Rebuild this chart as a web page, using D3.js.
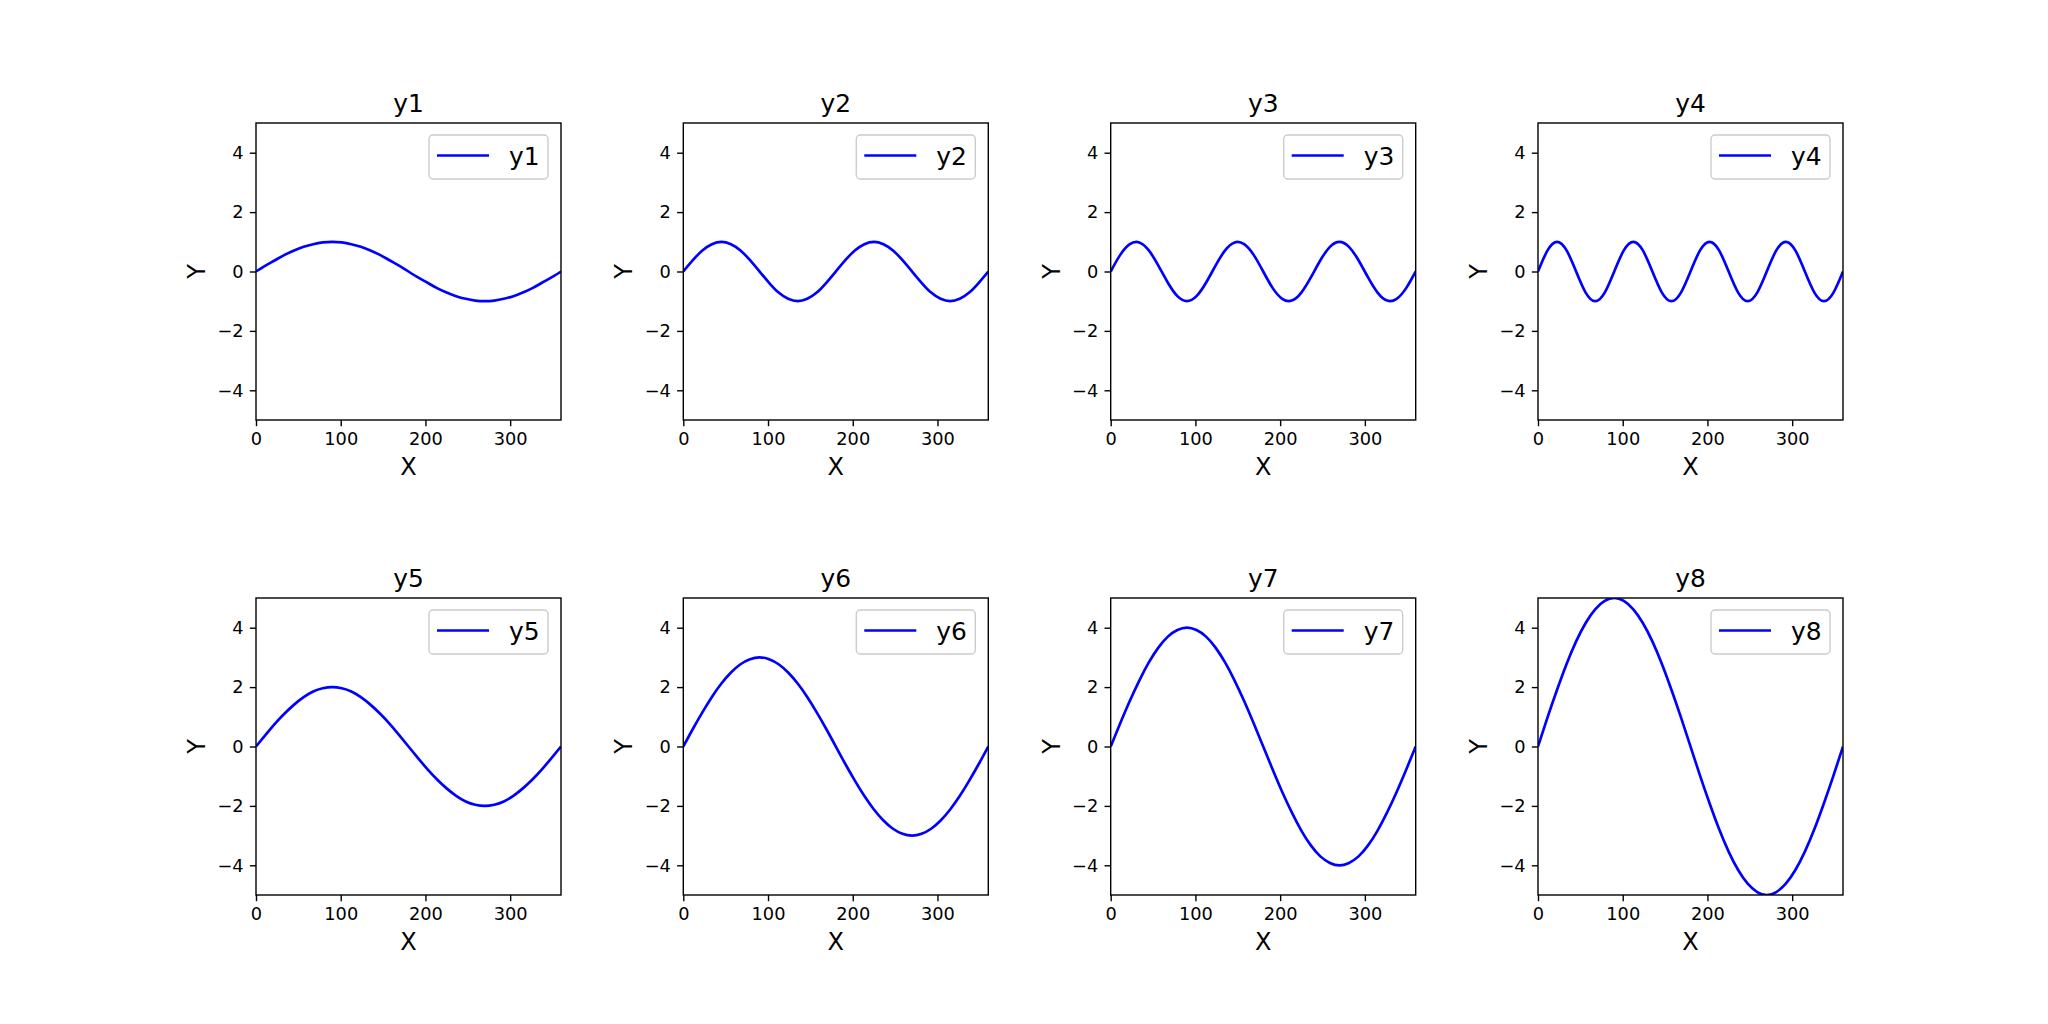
<!DOCTYPE html>
<html>
<head>
<meta charset="utf-8">
<script src="https://cdn.jsdelivr.net/npm/d3@7"></script>
<style>
  body { margin: 0; background: #fff; }
  svg { display: block; font-family: "DejaVu Sans", sans-serif; }
</style>
</head>
<body>
<div id="chart"></div>
<script>
// x positions (degrees)
const xValues = [0, 11.25, 22.5, 33.75, 45, 56.25, 67.5, 78.75, 90, 101.25, 112.5, 123.75, 135, 146.25, 157.5, 168.75,
  180, 191.25, 202.5, 213.75, 225, 236.25, 247.5, 258.75, 270, 281.25, 292.5, 303.75, 315, 326.25, 337.5, 348.75, 360];

const y1 = [0, 0.20, 0.38, 0.56, 0.71, 0.83, 0.92, 0.98, 1.00, 0.98, 0.92, 0.83, 0.71, 0.56, 0.38, 0.20,
  0, -0.20, -0.38, -0.56, -0.71, -0.83, -0.92, -0.98, -1.00, -0.98, -0.92, -0.83, -0.71, -0.56, -0.38, -0.20, 0];
const y2 = [0, 0.38, 0.71, 0.92, 1, 0.92, 0.71, 0.38, 0, -0.38, -0.71, -0.92, -1, -0.92, -0.71, -0.38,
  0, 0.38, 0.71, 0.92, 1, 0.92, 0.71, 0.38, 0, -0.38, -0.71, -0.92, -1, -0.92, -0.71, -0.38, 0];
const y3 = [0, 0.56, 0.92, 0.98, 0.71, 0.20, -0.38, -0.83, -1, -0.83, -0.38, 0.20, 0.71, 0.98, 0.92, 0.56,
  0, -0.56, -0.92, -0.98, -0.71, -0.20, 0.38, 0.83, 1, 0.83, 0.38, -0.20, -0.71, -0.98, -0.92, -0.56, 0];
const y4 = [0, 0.71, 1, 0.71, 0, -0.71, -1, -0.71, 0, 0.71, 1, 0.71, 0, -0.71, -1, -0.71,
  0, 0.71, 1, 0.71, 0, -0.71, -1, -0.71, 0, 0.71, 1, 0.71, 0, -0.71, -1, -0.71, 0];
const y5 = [0, 0.39, 0.77, 1.11, 1.41, 1.66, 1.85, 1.96, 2, 1.96, 1.85, 1.66, 1.41, 1.11, 0.77, 0.39,
  0, -0.39, -0.77, -1.11, -1.41, -1.66, -1.85, -1.96, -2, -1.96, -1.85, -1.66, -1.41, -1.11, -0.77, -0.39, 0];
const y6 = [0, 0.59, 1.15, 1.67, 2.12, 2.49, 2.77, 2.94, 3, 2.94, 2.77, 2.49, 2.12, 1.67, 1.15, 0.59,
  0, -0.59, -1.15, -1.67, -2.12, -2.49, -2.77, -2.94, -3, -2.94, -2.77, -2.49, -2.12, -1.67, -1.15, -0.59, 0];
const y7 = [0, 0.78, 1.53, 2.22, 2.83, 3.33, 3.70, 3.92, 4, 3.92, 3.70, 3.33, 2.83, 2.22, 1.53, 0.78,
  0, -0.78, -1.53, -2.22, -2.83, -3.33, -3.70, -3.92, -4, -3.92, -3.70, -3.33, -2.83, -2.22, -1.53, -0.78, 0];
const y8 = [0, 0.98, 1.91, 2.78, 3.54, 4.16, 4.62, 4.90, 5, 4.90, 4.62, 4.16, 3.54, 2.78, 1.91, 0.98,
  0, -0.98, -1.91, -2.78, -3.54, -4.16, -4.62, -4.90, -5, -4.90, -4.62, -4.16, -3.54, -2.78, -1.91, -0.98, 0];

const seriesNames = ['y1', 'y2', 'y3', 'y4', 'y5', 'y6', 'y7', 'y8'];
const seriesValues = [y1, y2, y3, y4, y5, y6, y7, y8];
const xTicks = [0, 100, 200, 300];
const yTicks = [-4, -2, 0, 2, 4];
const xLabel = 'X';
const yLabel = 'Y';

const width = 2048, height = 1024;
const panelW = 305, panelH = 297;
const colLeft = [256, 683.3, 1110.7, 1538];
const rowTop = [123, 598];

const svg = d3.select('#chart').append('svg')
  .attr('width', width)
  .attr('height', height);

const x = d3.scaleLinear().domain([0, 360]).range([0, panelW]);
const y = d3.scaleLinear().domain([-5, 5]).range([panelH, 0]);

const line = d3.line()
  .x((d, i) => x(xValues[i]))
  .y(d => y(d))
  .curve(d3.curveNatural);

seriesNames.forEach((name, idx) => {
  const col = idx % 4, row = Math.floor(idx / 4);
  const g = svg.append('g')
    .attr('transform', `translate(${colLeft[col]},${rowTop[row]})`);

  // clip to axes area
  g.append('clipPath').attr('id', `clip${idx}`)
    .append('rect').attr('width', panelW).attr('height', panelH);

  g.append('path')
    .datum(seriesValues[idx])
    .attr('clip-path', `url(#clip${idx})`)
    .attr('fill', 'none')
    .attr('stroke', '#0000ff')
    .attr('stroke-width', 2.67)
    .attr('d', line);

  // axes
  const xAxis = g.append('g')
    .attr('transform', `translate(0,${panelH})`)
    .call(d3.axisBottom(x).tickValues(xTicks).tickSize(6.2).tickPadding(6.2).tickSizeOuter(0));
  const yAxis = g.append('g')
    .call(d3.axisLeft(y).tickValues(yTicks).tickSize(6.2).tickPadding(6.2).tickSizeOuter(0));
  [xAxis, yAxis].forEach(a => {
    a.select('.domain').remove();
    a.selectAll('line').attr('stroke', '#000').attr('stroke-width', 1.4);
    a.selectAll('text').attr('fill', '#000').style('font-size', '17.8px')
      .style('font-family', '"DejaVu Sans", sans-serif');
  });

  // frame
  g.append('rect')
    .attr('width', panelW).attr('height', panelH)
    .attr('fill', 'none')
    .attr('stroke', '#000')
    .attr('stroke-width', 1.4);

  // title
  g.append('text')
    .attr('x', panelW / 2).attr('y', -11)
    .attr('text-anchor', 'middle')
    .style('font-size', '24.9px')
    .text(name);

  // axis labels
  g.append('text')
    .attr('x', panelW / 2).attr('y', panelH + 55)
    .attr('text-anchor', 'middle')
    .style('font-size', '24px')
    .text(xLabel);
  g.append('text')
    .attr('transform', `translate(-51,${panelH / 2}) rotate(-90)`)
    .attr('text-anchor', 'middle')
    .style('font-size', '24px')
    .text(yLabel);

  // legend
  const lw = 119, lh = 44;
  const legend = g.append('g')
    .attr('transform', `translate(${panelW - 13 - lw},12)`);
  legend.append('rect')
    .attr('width', lw).attr('height', lh)
    .attr('rx', 4).attr('ry', 4)
    .attr('fill', '#fff').attr('fill-opacity', 0.8)
    .attr('stroke', '#cccccc').attr('stroke-width', 1.4);
  legend.append('line')
    .attr('x1', 8).attr('x2', 60)
    .attr('y1', 20.5).attr('y2', 20.5)
    .attr('stroke', '#0000ff')
    .attr('stroke-width', 2.67);
  legend.append('text')
    .attr('x', 80).attr('y', 30)
    .style('font-size', '24.9px')
    .text(name);
});
</script>
</body>
</html>
